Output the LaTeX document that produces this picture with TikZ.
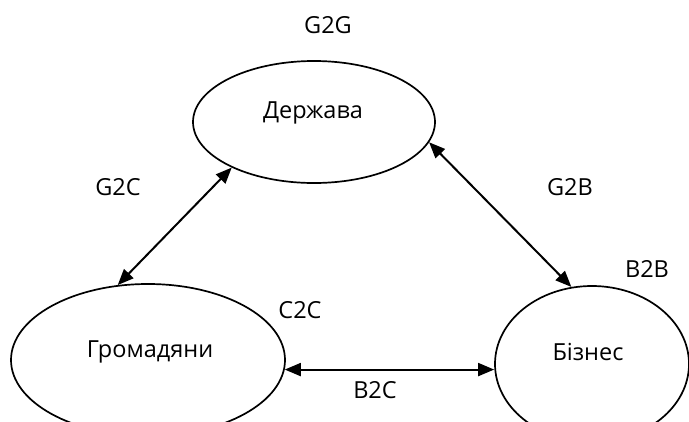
\documentclass[tikz,border=0pt]{standalone}
\usepackage{fontspec}
\setmainfont{Open Sans}
\usetikzlibrary{shapes.geometric,arrows.meta}
\begin{document}
\begin{tikzpicture}[x=1pt,y=-1pt,
  ell/.style={draw, ellipse, line width=1.7pt, inner sep=0pt},
  txt/.style={font=\fontsize{23.5}{28}\selectfont, inner sep=0pt},
  link/.style={{Triangle[length=16pt,width=13pt]}-{Triangle[length=16pt,width=13pt]}, line width=2pt}]
\clip (0,0) rectangle (689,421);
\fill[white] (0,0) rectangle (689,421);
% ellipses
\node[ell, minimum width=242pt, minimum height=122pt] (d) at (314,122) {};
\node[ell, minimum width=274pt, minimum height=152pt] (g) at (148,360) {};
\node[ell, minimum width=194pt, minimum height=156pt] (b) at (592,364) {};
% texts in ellipses
\node[txt] (dt) at (313,113) {Держава};
\node[txt] (gt) at (150,352) {Громадяни};
\node[txt] (bt) at (588,352) {Бізнес};
% labels
\node[txt] (g2g) at (328,25) {G2G};
\node[txt] (g2c) at (118,187) {G2C};
\node[txt] (g2b) at (570,187) {G2B};
\node[txt] (b2b) at (647,269) {B2B};
\node[txt] (c2c) at (300,310) {C2C};
\node[txt] (b2c) at (375,390) {B2C};
% connectors
\draw[link] (d.209) -- (g.112);
\draw[link] (d.350) -- (b.105);
\draw[link] (g.356) -- (g.356 -| b.west);
\end{tikzpicture}
\end{document}
